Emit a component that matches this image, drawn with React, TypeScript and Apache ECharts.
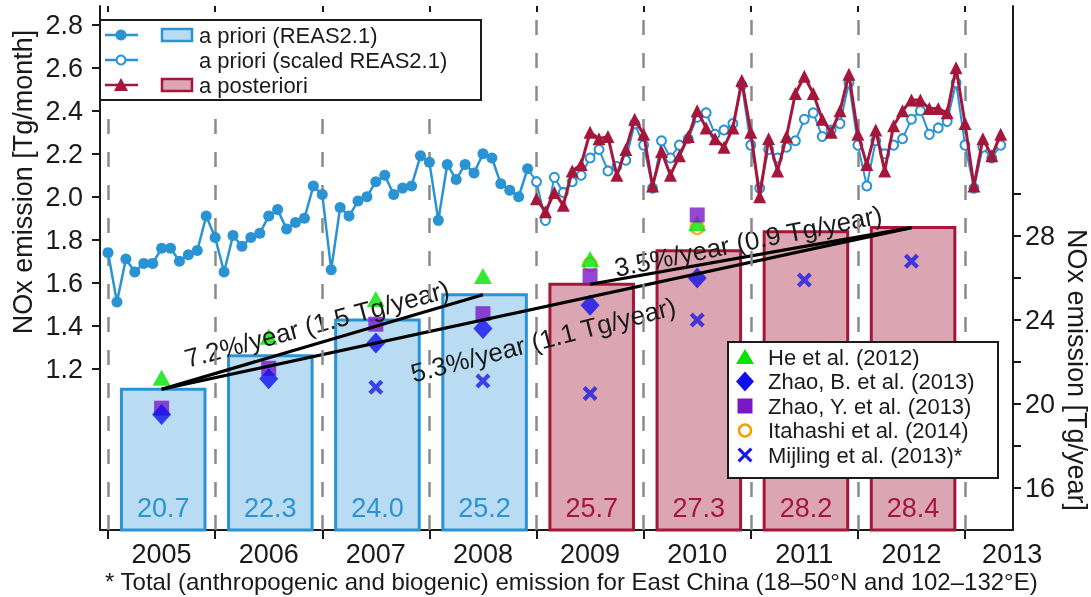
import React, { useEffect, useRef } from 'react';
import * as echarts from 'echarts';

const FONT = "'Liberation Sans', Arial, Helvetica, sans-serif";
const TXT = '#1a1a1a';
const BLUE = '#2a93d4';
const BLUE_FILL = '#b9dcf2';
const RED = '#a5173a';
const RED_FILL = '#dba6b1';
const GREEN = '#00e400';
const ZHAOB = '#1010ee';
const ZHAOY = '#7a18c8';
const ORANGE = '#f2a000';
const MIJ = '#1a1ae6';

// ---- axes ----
const X_MIN = 2004.925;
const X_MAX = 2013.448;
const L_MIN = 0.45;
const L_MAX = 2.887;
const R_MIN = 14;
const R_MAX = 38.95;
const yearBoundaries = [2005, 2006, 2007, 2008, 2009, 2010, 2011, 2012, 2013];
const yearLabelValues = [2005.5, 2006.5, 2007.5, 2008.5, 2009.5, 2010.5, 2011.5, 2012.5, 2013.44];
const leftTickValues = [1.2, 1.4, 1.6, 1.8, 2.0, 2.2, 2.4, 2.6, 2.8];
const rightTickValues = [16, 18, 20, 22, 24, 26, 28, 30];
const rightLabelValues = [16, 20, 24, 28];

// ---- monthly series (Tg/month), first value = January ----
const PRIOR_START = 2005;
const priorMonthly = [
  1.74, 1.51, 1.71, 1.65, 1.69, 1.69, 1.76, 1.76, 1.70, 1.73, 1.75, 1.91,
  1.81, 1.65, 1.82, 1.77, 1.81, 1.83, 1.91, 1.94, 1.85, 1.88, 1.90, 2.05,
  2.01, 1.66, 1.95, 1.91, 1.98, 2.00, 2.07, 2.10, 2.01, 2.04, 2.05, 2.19,
  2.16, 1.89, 2.15, 2.08, 2.15, 2.11, 2.20, 2.18, 2.06, 2.03, 2.00, 2.13,
];
const SCALED_START = 2009;
const scaledPriorMonthly = [
  2.07, 1.89, 2.09, 2.02, 2.07, 2.10, 2.18, 2.22, 2.12, 2.14, 2.17, 2.34,
  2.24, 2.04, 2.26, 2.18, 2.24, 2.27, 2.37, 2.39, 2.29, 2.31, 2.34, 2.52,
  2.24, 2.04, 2.22, 2.18, 2.23, 2.26, 2.36, 2.39, 2.28, 2.31, 2.34, 2.53,
  2.24, 2.05, 2.26, 2.20, 2.24, 2.27, 2.36, 2.40, 2.29, 2.32, 2.35, 2.53,
  2.24, 2.04, 2.23, 2.18, 2.24,
];
const posteriorMonthly = [
  1.99, 1.93, 2.02, 1.96, 2.12, 2.15, 2.30, 2.27, 2.28, 2.10, 2.22, 2.36,
  2.29, 2.05, 2.21, 2.10, 2.19, 2.28, 2.40, 2.32, 2.27, 2.23, 2.32, 2.54,
  2.30, 2.00, 2.27, 2.12, 2.28, 2.48, 2.56, 2.48, 2.36, 2.30, 2.40, 2.57,
  2.29, 2.15, 2.31, 2.12, 2.33, 2.40, 2.45, 2.45, 2.41, 2.41, 2.39, 2.60,
  2.34, 2.05, 2.27, 2.19, 2.29,
];

// ---- annual totals (Tg/year) ----
const priorYears = [2005, 2006, 2007, 2008];
const priorAnnual = [20.7, 22.3, 24.0, 25.2];
const posteriorYears = [2009, 2010, 2011, 2012];
const posteriorAnnual = [25.7, 27.3, 28.2, 28.4];

// ---- other studies (Tg/year) ----
const heYears = [2005, 2006, 2007, 2008, 2009, 2010];
const heValues = [21.25, 23.2, 25.0, 26.1, 26.9, 28.6];
const zhaoBYears = [2005, 2006, 2007, 2008, 2009, 2010];
const zhaoBValues = [19.5, 21.2, 22.9, 23.6, 24.7, 26.0];
const zhaoYYears = [2005, 2006, 2007, 2008, 2009, 2010];
const zhaoYValues = [19.8, 21.7, 23.8, 24.3, 26.1, 29.0];
const itahashiYears = [2009, 2010];
const itahashiValues = [26.65, 28.4];
const mijlingYears = [2007, 2008, 2009, 2010, 2011, 2012];
const mijlingValues = [20.8, 21.1, 20.5, 24.0, 25.9, 26.8];

// ---- trends ----
const trendLabels = ['7.2%/year (1.5 Tg/year)', '5.3%/year (1.1 Tg/year)', '3.5%/year (0.9 Tg/year)'];
const trendStartYear = [2005.5, 2005.5, 2009.5];
const trendStartValue = [20.7, 20.7, 25.7];
const trendEndYear = [2008.5, 2012.5, 2012.5];
const trendEndValue = [25.2, 28.4, 28.4];
const trendTextOffset = [-19, 32, -15];
const trendTextAngle = [15, 14.5, 11.4];

const X_PATH = 'path://M0,2L2,0L5,3L8,0L10,2L7,5L10,8L8,10L5,7L2,10L0,8L3,5Z';

function xPoints(cx: number, cy: number, h: number, t: number) {
  return [
    [cx - h, cy - h + t], [cx - h + t, cy - h], [cx, cy - t], [cx + h - t, cy - h], [cx + h, cy - h + t],
    [cx + t, cy], [cx + h, cy + h - t], [cx + h - t, cy + h], [cx, cy + t], [cx - h + t, cy + h],
    [cx - h, cy + h - t], [cx - t, cy],
  ];
}

function barSeries(name: string, years: number[], values: number[], fill: string, stroke: string) {
  return {
    type: 'custom',
    name,
    xAxisIndex: 0,
    yAxisIndex: 1,
    data: years.map((y, i) => [y, values[i]]),
    encode: { x: 0, y: 1 },
    z: 2,
    renderItem: (params: any, api: any) => {
      const yr = api.value(0);
      const v = api.value(1);
      const tl = api.coord([yr + 0.125, v]);
      const br = api.coord([yr + 0.905, R_MIN]);
      return {
        type: 'group',
        children: [
          {
            type: 'rect',
            shape: { x: tl[0], y: tl[1], width: br[0] - tl[0], height: br[1] - tl[1] },
            style: { fill, stroke, lineWidth: 3 },
          },
          {
            type: 'text',
            x: (tl[0] + br[0]) / 2,
            y: br[1] - 22,
            style: {
              text: v.toFixed(1), fill: stroke, fontSize: 27, fontFamily: FONT,
              align: 'center', verticalAlign: 'middle',
            },
          },
        ],
      };
    },
  };
}

export default function App() {
  const ref = useRef<HTMLDivElement>(null);
  useEffect(() => {
    document.body.style.margin = '0';
    const chart = echarts.init(ref.current!, null, { renderer: 'svg' });
    const monthX = (start: number, i: number) => start + i / 12;
    const scaledData: any[] = [
      { value: [monthX(PRIOR_START, priorMonthly.length - 1), priorMonthly[priorMonthly.length - 1]], symbol: 'none' },
      ...scaledPriorMonthly.map((v, i) => [monthX(SCALED_START, i), v]),
    ];
    const axisLine = { show: true, onZero: false, lineStyle: { color: TXT, width: 2 } };
    const tickStyle = { color: TXT, width: 2 };
    const lbl = { fontSize: 27, color: TXT, fontFamily: FONT };
    const legText = (text: string, x: number, y: number) => ({
      type: 'text', x, y,
      style: { text, fontSize: 22, fill: TXT, fontFamily: FONT, verticalAlign: 'middle' },
    });

    const r1 = 35, r2 = 60, r3 = 85;
    const topLegend = [
      { type: 'rect', shape: { x: 100, y: 20, width: 381, height: 80 }, style: { fill: '#fff', stroke: TXT, lineWidth: 2 } },
      { type: 'line', shape: { x1: 105, y1: r1, x2: 138, y2: r1 }, style: { stroke: BLUE, lineWidth: 2.5 } },
      { type: 'circle', shape: { cx: 121, cy: r1, r: 5.5 }, style: { fill: BLUE } },
      { type: 'rect', shape: { x: 162, y: r1 - 6, width: 30, height: 12 }, style: { fill: BLUE_FILL, stroke: BLUE, lineWidth: 2.5 } },
      legText('a priori (REAS2.1)', 199, r1),
      { type: 'line', shape: { x1: 105, y1: r2, x2: 138, y2: r2 }, style: { stroke: BLUE, lineWidth: 2.5 } },
      { type: 'circle', shape: { cx: 121, cy: r2, r: 4.5 }, style: { fill: '#fff', stroke: BLUE, lineWidth: 2 } },
      legText('a priori (scaled REAS2.1)', 199, r2),
      { type: 'line', shape: { x1: 105, y1: r3, x2: 138, y2: r3 }, style: { stroke: RED, lineWidth: 2.5 } },
      { type: 'polygon', shape: { points: [[121, r3 - 7], [128, r3 + 6], [114, r3 + 6]] }, style: { fill: RED } },
      { type: 'rect', shape: { x: 162, y: r3 - 6, width: 30, height: 12 }, style: { fill: RED_FILL, stroke: RED, lineWidth: 2.5 } },
      legText('a posteriori', 199, r3),
    ];
    const rows = [357, 381.5, 406, 430.5, 455];
    const mx = 745;
    const rightLegend = [
      { type: 'rect', shape: { x: 728, y: 342, width: 270, height: 136 }, style: { fill: '#fff', stroke: TXT, lineWidth: 2 } },
      { type: 'polygon', shape: { points: [[mx, rows[0] - 8], [mx + 9, rows[0] + 7], [mx - 9, rows[0] + 7]] }, style: { fill: GREEN } },
      { type: 'polygon', shape: { points: [[mx, rows[1] - 10], [mx + 9, rows[1]], [mx, rows[1] + 10], [mx - 9, rows[1]]] }, style: { fill: ZHAOB } },
      { type: 'rect', shape: { x: mx - 7.5, y: rows[2] - 7.5, width: 15, height: 15 }, style: { fill: ZHAOY } },
      { type: 'circle', shape: { cx: mx, cy: rows[3], r: 6 }, style: { fill: 'none', stroke: ORANGE, lineWidth: 2.5 } },
      { type: 'polygon', shape: { points: xPoints(mx, rows[4], 7.5, 2.2) }, style: { fill: MIJ } },
      ...['He et al. (2012)', 'Zhao, B. et al. (2013)', 'Zhao, Y. et al. (2013)', 'Itahashi et al. (2014)', 'Mijling et al. (2013)*'].map((t, i) =>
        legText(t, 768, rows[i])),
    ];

    const option: any = {
      animation: false,
      grid: { left: 100, right: 78, top: 6, bottom: 67, containLabel: false },
      xAxis: [
        {
          type: 'value', min: X_MIN, max: X_MAX, position: 'bottom',
          axisLine,
          axisTick: { show: true, customValues: yearBoundaries, length: 9, lineStyle: tickStyle },
          axisLabel: { ...lbl, customValues: yearLabelValues, margin: 10, formatter: (v: number) => String(Math.floor(v)) },
          splitLine: { show: false },
        },
        {
          type: 'value', min: X_MIN, max: X_MAX, position: 'top',
          axisLine: { show: false },
          axisTick: { show: true, inside: true, customValues: yearBoundaries, length: 6, lineStyle: tickStyle },
          axisLabel: { show: false },
          splitLine: { show: false },
        },
      ],
      yAxis: [
        {
          type: 'value', min: L_MIN, max: L_MAX, position: 'left',
          axisLine,
          axisTick: { show: true, customValues: leftTickValues, length: 8, lineStyle: tickStyle },
          axisLabel: { ...lbl, customValues: leftTickValues, margin: 17, formatter: (v: number) => v.toFixed(1) },
          splitLine: { show: false },
        },
        {
          type: 'value', min: R_MIN, max: R_MAX, position: 'right',
          axisLine,
          axisTick: { show: true, customValues: rightTickValues, length: 8, lineStyle: tickStyle },
          axisLabel: { ...lbl, customValues: rightLabelValues, margin: 12 },
          splitLine: { show: false },
        },
      ],
      graphic: [
        ...topLegend.map((e) => ({ ...e, z: 100 })),
        ...rightLegend.map((e) => ({ ...e, z: 100 })),
        { type: 'text', x: 23, y: 182, rotation: Math.PI / 2, z: 100, style: { text: 'NOx emission [Tg/month]', fontSize: 27, fill: TXT, fontFamily: FONT, align: 'center', verticalAlign: 'middle' } },
        { type: 'text', x: 1077, y: 370, rotation: -Math.PI / 2, z: 100, style: { text: 'NOx emission [Tg/year]', fontSize: 27, fill: TXT, fontFamily: FONT, align: 'center', verticalAlign: 'middle' } },
        { type: 'text', x: 105, y: 581, z: 100, style: { text: '* Total (anthropogenic and biogenic) emission for East China (18\u201350\u00b0N and 102\u2013132\u00b0E)', fontSize: 24, fill: TXT, fontFamily: FONT, verticalAlign: 'middle' } },
      ],
      series: [
        {
          type: 'line', name: 'years', data: [], z: 1,
          markLine: {
            silent: true, symbol: ['none', 'none'], label: { show: false },
            lineStyle: { color: '#8a8a8a', width: 2.5, type: [15, 18] },
            data: yearBoundaries.map((y) => ({ xAxis: y })),
          },
        },
        barSeries('a priori (REAS2.1) annual', priorYears, priorAnnual, BLUE_FILL, BLUE),
        barSeries('a posteriori annual', posteriorYears, posteriorAnnual, RED_FILL, RED),
        {
          type: 'scatter', name: 'Itahashi et al. (2014)', yAxisIndex: 1, z: 3,
          data: itahashiYears.map((y, i) => [y + 0.5, itahashiValues[i]]),
          symbol: 'circle', symbolSize: 13,
          itemStyle: { color: 'rgba(0,0,0,0)', borderColor: ORANGE, borderWidth: 2.5 },
        },
        {
          type: 'scatter', name: 'He et al. (2012)', yAxisIndex: 1, z: 3,
          data: heYears.map((y, i) => [y + 0.5, heValues[i]]),
          symbol: 'triangle', symbolSize: [18, 16], itemStyle: { color: GREEN },
        },
        {
          type: 'scatter', name: 'Zhao, Y. et al. (2013)', yAxisIndex: 1, z: 3,
          data: zhaoYYears.map((y, i) => [y + 0.5, zhaoYValues[i]]),
          symbol: 'rect', symbolSize: 15, itemStyle: { color: ZHAOY },
        },
        {
          type: 'scatter', name: 'Zhao, B. et al. (2013)', yAxisIndex: 1, z: 3,
          data: zhaoBYears.map((y, i) => [y + 0.5, zhaoBValues[i]]),
          symbol: 'diamond', symbolSize: [19, 21], itemStyle: { color: ZHAOB },
        },
        {
          type: 'scatter', name: 'Mijling et al. (2013)*', yAxisIndex: 1, z: 3,
          data: mijlingYears.map((y, i) => [y + 0.5, mijlingValues[i]]),
          symbol: X_PATH, symbolSize: 15, symbolKeepAspect: true, itemStyle: { color: MIJ },
        },
        {
          type: 'custom', name: 'trends', yAxisIndex: 1, z: 4,
          data: trendLabels.map((_, i) => [trendStartYear[i], trendStartValue[i], trendEndYear[i], trendEndValue[i]]),
          encode: { x: [0, 2], y: [1, 3] },
          renderItem: (params: any, api: any) => {
            const i = params.dataIndex;
            const p0 = api.coord([api.value(0), api.value(1)]);
            const p1 = api.coord([api.value(2), api.value(3)]);
            const dx = p1[0] - p0[0];
            const dy = p1[1] - p0[1];
            const len = Math.hypot(dx, dy);
            const ux = dx / len, uy = dy / len;
            const off = trendTextOffset[i];
            const cx = (p0[0] + p1[0]) / 2 + off * -uy;
            const cy = (p0[1] + p1[1]) / 2 + off * ux;
            return {
              type: 'group',
              children: [
                { type: 'line', shape: { x1: p0[0], y1: p0[1], x2: p1[0], y2: p1[1] }, style: { stroke: '#000', lineWidth: 3.2 } },
                {
                  type: 'text', x: cx, y: cy, rotation: (trendTextAngle[i] * Math.PI) / 180,
                  style: { text: trendLabels[i], fontSize: 26, fill: TXT, fontFamily: FONT, align: 'center', verticalAlign: 'middle' },
                },
              ],
            };
          },
        },
        {
          type: 'line', name: 'a priori (REAS2.1)', z: 5,
          data: priorMonthly.map((v, i) => [monthX(PRIOR_START, i), v]),
          symbol: 'circle', symbolSize: 11,
          itemStyle: { color: BLUE }, lineStyle: { color: BLUE, width: 2.5 },
        },
        {
          type: 'line', name: 'a priori (scaled REAS2.1)', z: 5,
          data: scaledData,
          symbol: 'emptyCircle', symbolSize: 9,
          itemStyle: { color: BLUE, borderWidth: 2 }, lineStyle: { color: BLUE, width: 2 },
        },
        {
          type: 'line', name: 'a posteriori', z: 6,
          data: posteriorMonthly.map((v, i) => [monthX(SCALED_START, i), v]),
          symbol: 'triangle', symbolSize: 13,
          itemStyle: { color: RED }, lineStyle: { color: RED, width: 3 },
        },
      ],
    };
    chart.setOption(option);
    return () => chart.dispose();
  }, []);
  return <div ref={ref} style={{ position: 'fixed', left: 0, top: 0, width: 1091, height: 597 }} />;
}
